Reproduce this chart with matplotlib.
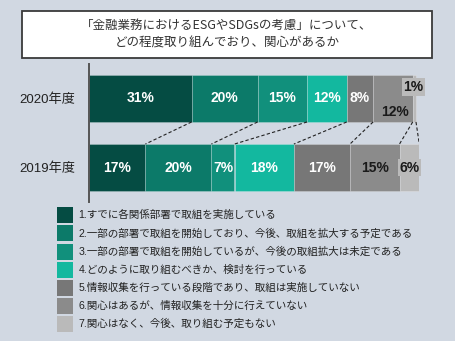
import matplotlib
matplotlib.use("Agg")
import matplotlib.pyplot as plt
from matplotlib.patches import Rectangle
import numpy as np

plt.rcParams['font.family'] = ['Liberation Sans', 'Noto Sans CJK JP', 'DejaVu Sans']

years = ["2020年度", "2019年度"]
categories = [
    "1.すでに各関係部署で取組を実施している",
    "2.一部の部署で取組を開始しており、今後、取組を拡大する予定である",
    "3.一部の部署で取組を開始しているが、今後の取組拡大は未定である",
    "4.どのように取り組むべきか、検討を行っている",
    "5.情報収集を行っている段階であり、取組は実施していない",
    "6.関心はあるが、情報収集を十分に行えていない",
    "7.関心はなく、今後、取り組む予定もない",
]
values_2020 = [31, 20, 15, 12, 8, 12, 1]
values_2019 = [17, 20, 7, 18, 17, 15, 6]
colors = ["#054c43", "#0c7a69", "#11907c", "#13b89f", "#777777", "#8b8b8b", "#bababa"]
title = "「金融業務におけるESGやSDGsの考慮」について、\nどの程度取り組んでおり、関心があるか"

W, H = 456, 341
BG = "#d1d8e2"
fig = plt.figure(figsize=(W / 100, H / 100), dpi=100, facecolor=BG)

def fx(px):
    return px / W

def fy(py):
    return 1 - py / H

# title box
fig.patches.append(Rectangle((fx(22), fy(58)), fx(432) - fx(22), fy(11) - fy(58),
                             transform=fig.transFigure, facecolor="white",
                             edgecolor="#3a3a3a", linewidth=1.3))
fig.text(fx(227), fy(34.5), title, ha="center", va="center", fontsize=9,
         color="#333333", linespacing=1.45,
         family=['Noto Sans CJK JP', 'DejaVu Sans'])

# bar axes
ax = fig.add_axes([fx(89.3), fy(202), fx(419.3) - fx(89.3), fy(64) - fy(202)])
ax.set_facecolor("none")
ax.set_xlim(0, 100)
ax.set_ylim(-0.5, 1.5)
for s in ["top", "right", "bottom"]:
    ax.spines[s].set_visible(False)
ax.spines["left"].set_color("#555555")
ax.spines["left"].set_linewidth(1.4)
ax.set_xticks([])
ax.set_yticks([1, 0])
ax.set_yticklabels(years, fontsize=9.5, color="#222222")
ax.tick_params(axis="y", length=0, pad=10)

bar_h = 0.68
ypos = [1, 0]
data = [values_2020, values_2019]
for y, vals in zip(ypos, data):
    left = 0
    for v, c in zip(vals, colors):
        ax.barh(y, v, left=left, height=bar_h, color=c, edgecolor=(1, 1, 1, 0.25),
                linewidth=0.6)
        left += v

# connector lines between cumulative boundaries
cum20 = np.cumsum(values_2020)
cum19 = np.cumsum(values_2019)
for a, b in zip(cum20, cum19):
    ax.plot([a, b], [1 - bar_h / 2, bar_h / 2], color="#222222", lw=0.8,
            linestyle=(0, (3, 2)), zorder=3)

label_kw = dict(ha="center", va="center", fontsize=10, fontweight="bold")

def seg_center(vals, i):
    return sum(vals[:i]) + vals[i] / 2

# 2020 labels
for i, v in enumerate(values_2020):
    x = seg_center(values_2020, i)
    if i < 5:
        ax.text(x, 1, f"{v}%", color="white", **label_kw)
    elif i == 5:
        ax.text(x + 0.6, 0.80, f"{v}%", color="#1a1a1a", **label_kw)
    else:
        ax.text(x - 0.3, 1.167, f"{v}%", color="#1a1a1a", zorder=5,
                bbox=dict(boxstyle="square,pad=0.12", facecolor="#bababa",
                          edgecolor="none"), **label_kw)

# 2019 labels
for i, v in enumerate(values_2019):
    x = seg_center(values_2019, i)
    if i < 5:
        ax.text(x, 0, f"{v}%", color="white", **label_kw)
    elif i == 5:
        ax.text(x, 0, f"{v}%", color="#1a1a1a", **label_kw)
    else:
        ax.text(x, 0, f"{v}%", color="#1a1a1a", zorder=5,
                bbox=dict(boxstyle="square,pad=0.12", facecolor="#bababa",
                          edgecolor="none"), **label_kw)

# legend
row0, step = 215.3, 18.1
for i, (lab, c) in enumerate(zip(categories, colors)):
    yc = row0 + i * step
    fig.patches.append(Rectangle((fx(57.3), fy(yc + 8)), fx(16), fy(0) - fy(16),
                                 transform=fig.transFigure, facecolor=c,
                                 edgecolor="none"))
    fig.text(fx(78.3), fy(yc), lab, ha="left", va="center", fontsize=7.6,
             color="#222222")

fig.savefig("out.png", dpi=100, facecolor=BG)
